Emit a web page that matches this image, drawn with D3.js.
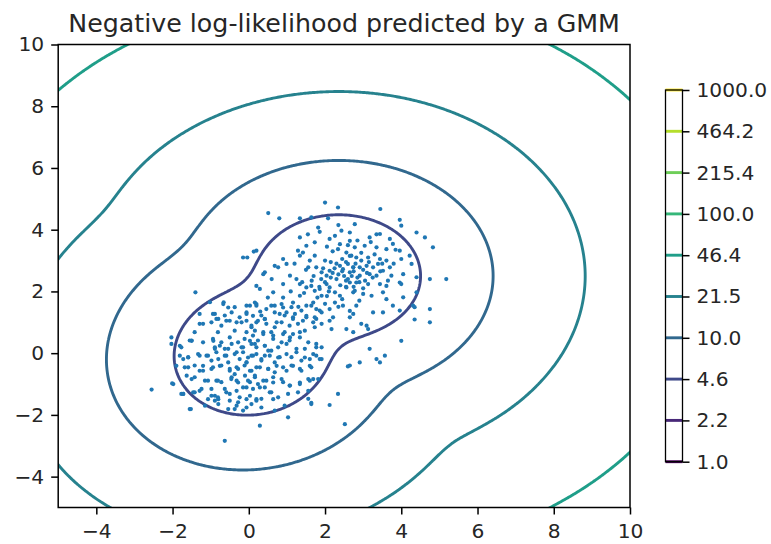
<!DOCTYPE html>
<html><head><meta charset="utf-8">
<script src="https://cdn.jsdelivr.net/npm/d3@7"></script>
<style>body{margin:0;background:#fff}svg{display:block}</style>
</head><body>
<svg id="chart" width="771" height="544"></svg>
<script>
const chartTitle = "Negative log-likelihood predicted by a GMM";
const xTicks = [-4, -2, 0, 2, 4, 6, 8, 10];
const yTicks = [-4, -2, 0, 2, 4, 6, 8, 10];
const levels = [1.0, 2.1544, 4.6416, 10.0, 21.544, 46.416, 100.0, 215.44, 464.16, 1000.0];
const gmmWeights = [0.5, 0.5];
const gmmMeans = [[0.08, 0.03], [2.36, 2.5]];
const gmmCovs = [[[0.97, 0.06], [0.06, 0.97]], [[1.1, 0.0], [0.0, 0.94]]];
const samples = [
[2.00,4.88],[2.34,4.72],[0.51,4.54],[0.80,4.37],[1.34,4.37],[1.64,4.40],[2.08,4.37],[1.82,4.07],[1.86,3.93],[2.43,3.97],
[2.65,3.91],[2.26,3.80],[1.34,3.75],[2.12,3.70],[1.51,3.48],[1.73,3.59],[1.29,3.32],[1.42,3.26],[1.34,3.16],[1.73,3.16],
[2.39,3.53],[2.34,3.37],[2.65,3.64],[2.56,3.26],[2.69,3.16],[0.20,3.32],[0.42,2.62],[0.90,3.05],[0.99,2.89],[0.77,2.78],
[0.68,2.83],[0.38,2.56],[1.08,2.51],[1.56,2.78],[1.77,2.78],[1.91,2.62],[2.04,2.51],[2.12,2.67],[2.39,2.83],[2.47,2.72],
[2.60,2.89],[2.65,2.62],[2.74,2.78],[0.20,2.18],[0.29,2.08],[0.64,1.97],[0.90,2.24],[1.25,2.40],[1.34,2.24],[1.51,2.13],
[1.64,2.18],[1.73,2.02],[1.86,2.08],[1.91,1.86],[2.04,2.24],[2.12,2.13],[2.26,1.97],[2.39,1.86],[2.56,2.13],[2.65,2.29],
[2.74,1.97],[0.16,1.64],[0.20,1.54],[0.59,1.54],[0.90,1.48],[0.99,1.32],[1.16,1.64],[1.34,1.86],[1.51,1.54],[1.69,1.64],
[1.77,1.43],[1.91,1.32],[2.12,1.43],[2.26,1.64],[2.47,1.54],[2.65,1.37],[0.11,1.21],[0.42,1.10],[0.81,1.27],[1.16,1.16],
[1.51,1.21],[1.73,1.16],[2.21,1.16],[2.65,1.16],
[2.30,2.40],[2.50,2.50],[2.20,2.60],[2.60,2.40],[2.40,2.20],[2.00,2.30],[2.70,2.50],[1.90,2.40],[2.30,2.90],[2.55,2.95],
[2.00,3.00],[1.20,2.90],[1.60,3.00],[0.60,2.40],[0.90,1.80],[1.10,2.00],[1.30,1.50],[0.50,1.80],[0.30,1.35],[1.80,1.80],
[2.90,2.30],[3.10,2.60],[2.80,2.90],[3.30,3.20],[2.10,2.00],[1.70,2.50],[2.45,2.65],[3.00,2.10],[2.20,3.30],[1.50,2.70],
[3.50,2.90],[2.60,3.50],[3.20,3.60],[2.00,1.60],[2.90,1.70],[1.40,2.30],[3.80,2.90],[2.35,1.50],
[2.15,2.45],[2.35,2.55],[2.55,2.35],[2.75,2.65],[2.85,2.45],[3.05,2.35],[2.25,2.75],[2.45,3.05],[2.65,3.15],[2.95,3.25],
[1.95,2.75],[1.85,2.15],[2.05,1.85],[2.45,1.75],[2.75,2.15],[3.25,2.45],[3.45,2.65],[3.15,2.95],[2.05,3.45],[1.65,2.35],
[1.45,1.95],[2.85,3.65],[3.35,3.85],[2.35,4.15],[1.55,3.85],[3.85,3.35],[3.65,2.35],[2.15,2.95],[2.55,2.15],[3.00,2.70],
[3.45,4.67],[2.78,4.18],[3.96,4.32],[4.00,4.13],[4.40,3.91],[4.62,3.75],[4.83,3.43],[3.17,3.75],[3.44,3.86],[3.70,3.70],
[3.78,3.54],[3.04,3.48],[2.78,3.43],[3.35,3.43],[3.61,3.37],[3.96,3.32],[4.22,3.16],[2.82,3.10],[2.95,3.00],[3.13,3.10],
[3.44,3.05],[3.61,3.00],[4.00,3.05],[4.27,2.89],[2.74,2.78],[2.91,2.78],[3.09,2.83],[3.26,2.78],[3.39,2.89],[3.52,2.67],
[3.70,2.78],[3.17,2.56],[3.35,2.51],[2.91,2.51],[3.74,2.51],[4.05,2.56],[4.40,2.46],[4.75,2.40],[5.18,2.40],[2.82,2.29],
[3.13,2.24],[3.44,2.24],[3.61,2.18],[3.96,2.29],[2.78,2.02],[3.00,1.92],[3.22,1.86],[3.52,1.97],[3.61,1.75],[3.78,1.54],
[4.05,1.81],[4.31,1.54],[2.82,1.54],[3.26,1.32],[2.74,1.27],[3.52,1.32],[3.96,1.38],[4.75,1.43],[4.40,1.97],
[4.35,1.09],[4.75,1.00],[2.95,0.95],[3.09,0.89],[3.13,0.78],[2.74,0.68],[4.00,0.40],[3.17,0.14],[2.91,-0.30],[2.65,-0.40],
[3.35,-0.19],[3.44,-0.30],[3.57,-0.08],[4.00,2.24],[4.35,1.49],
[-0.15,3.10],[-0.04,3.10],[0.13,3.29],[-1.40,1.97],[-1.02,1.65],[-0.66,1.65],[-0.54,1.48],[-0.45,1.32],[-0.94,1.27],[-0.06,1.32],
[0.03,1.54],[-1.29,1.27],[-0.24,1.16],[-0.80,1.11],
[-1.29,0.95],[-0.85,1.11],[-0.59,1.05],[-0.32,1.00],[-0.06,1.05],[0.07,0.84],[-2.03,0.51],[-2.03,0.30],[-1.50,0.40],[-1.81,0.24],
[-0.93,0.40],[-0.76,0.24],[-0.89,0.14],[-0.63,0.14],[-0.45,0.30],[-0.32,0.03],[-0.15,0.19],[0.03,0.40],[-1.72,-0.19],[-1.59,-0.13],
[-1.29,-0.08],[-1.07,-0.08],[-0.80,-0.19],[-0.59,-0.08],[-0.24,-0.19],[-0.06,-0.30],[0.07,-0.08],[-1.90,-0.41],[-1.59,-0.46],[-1.20,-0.41],
[-0.98,-0.51],[-0.76,-0.41],[-0.50,-0.57],[-0.28,-0.51],[0.03,-0.57],[-1.63,-0.73],[-1.42,-0.78],[-1.15,-0.89],[-0.85,-0.89],[-0.72,-0.94],
[-0.45,-0.78],[-0.32,-0.89],[-0.10,-0.73],[0.03,-0.94],[-2.55,-1.18],[-1.98,-1.00],[-1.72,-1.32],[-1.46,-1.27],[-1.29,-1.22],[-0.98,-1.16],
[-0.89,-1.38],[-0.59,-1.27],[-0.32,-1.22],[-0.06,-1.11],[-1.07,-1.49],[-0.80,-1.49],[-0.50,-1.54],[-0.28,-1.59],[-0.06,-1.49],[0.07,-1.65],
[-1.52,-1.81],[-0.80,-1.65],[-0.54,-1.81],[-0.32,-1.70],[-0.15,-1.86],[-0.63,-2.84],[-1.77,-1.32],[-1.50,0.41],[-1.29,-0.57],
[0.20,1.00],[0.42,1.11],[0.73,1.00],[1.16,1.11],[1.42,1.05],[1.69,1.00],[1.91,0.95],[2.12,1.05],[2.17,0.78],[2.56,0.78],
[0.11,0.57],[0.38,0.68],[0.64,0.57],[0.90,0.62],[1.08,0.51],[1.34,0.68],[0.16,0.30],[0.42,0.24],[0.51,0.08],[0.77,0.19],
[0.99,0.30],[1.25,0.14],[1.47,0.14],[1.77,0.30],[1.91,0.19],[0.11,-0.08],[0.33,-0.19],[0.55,-0.08],[0.81,-0.13],[1.12,-0.13],
[1.38,-0.24],[1.60,-0.19],[1.77,-0.08],[1.86,-0.19],[2.60,-0.43],[0.20,-0.46],[0.51,-0.51],[0.73,-0.41],[0.99,-0.57],[1.16,-0.41],
[1.34,-0.51],[1.60,-0.41],[0.16,-0.78],[0.38,-0.89],[0.64,-0.78],[0.90,-0.94],[1.34,-1.00],[1.56,-0.84],[1.69,-0.84],[0.29,-1.11],
[0.55,-1.27],[1.08,-1.05],[1.56,-1.22],[2.34,-1.32],[0.20,-1.49],[0.64,-1.49],[1.64,-1.61],[2.12,-1.68],[1.03,-2.08],[0.29,-2.35],
[2.52,-2.30],[-2.01,-0.98],
[-0.67,1.59],[-0.37,1.49],[-0.06,1.54],[0.20,1.59],[0.46,1.43],[0.68,1.54],[0.86,1.59],[1.12,1.49],[1.38,1.38],[1.64,1.54],
[1.86,1.38],[-0.89,1.27],[-0.63,1.22],[-0.06,1.27],[0.33,1.22],[0.68,1.32],[0.94,1.22],[1.21,1.27],[1.51,1.16],[1.77,1.11],
[-1.20,0.95],[-0.98,1.00],[-0.72,0.89],[-0.50,1.05],[-0.19,1.00],[0.07,0.89],[0.24,1.05],[0.46,0.95],[0.68,0.84],[0.86,1.00],
[1.07,0.89],[1.29,0.95],[1.47,0.73],[1.73,0.84],[-1.42,0.68],[-0.81,0.68],[-0.37,0.73],[-0.06,0.68],[0.16,0.73],[0.38,0.62],
[0.59,0.68],[0.94,0.68],[1.16,0.62],
[-1.55,0.41],[-1.20,0.35],[-0.94,0.46],[-0.72,0.35],[-0.50,0.51],[-0.28,0.35],[-0.11,0.46],[0.07,0.30],[0.24,0.41],[0.42,0.24],
[0.64,0.46],[0.86,0.35],[1.07,0.41],[1.34,0.51],[1.56,0.35],[1.77,0.19],[-1.77,0.19],[-0.89,0.19],[-0.54,0.14],[-0.19,0.19],[0.20,0.19],
[-1.81,-0.08],[-1.59,-0.14],[-1.33,-0.03],[-1.11,-0.08],[-0.85,0.03],[-0.63,-0.08],[-0.37,-0.03],[-0.15,0.03],[-0.02,-0.14],[0.20,-0.03],
[0.42,-0.08],[0.59,0.08],[0.77,-0.14],[0.99,-0.03],[1.25,0.03],[1.47,-0.14],[1.69,-0.03],[1.91,-0.19],[-0.98,-0.24],[-0.54,-0.30],
[-0.06,-0.30],[0.33,-0.24],[0.68,-0.30],
[-1.68,-0.46],[-1.42,-0.40],[-1.20,-0.57],[-0.94,-0.46],[-0.72,-0.40],[-0.50,-0.51],[-0.32,-0.46],[-0.11,-0.40],[0.07,-0.57],[0.29,-0.46],
[0.51,-0.51],[0.68,-0.62],[0.90,-0.46],[1.12,-0.40],[1.38,-0.57],[1.64,-0.46],[-0.37,-0.68],[0.16,-0.73],
[-1.50,-0.84],[-1.07,-0.89],[-0.81,-0.89],[-0.46,-0.84],[-0.28,-0.95],[-0.02,-0.89],[0.24,-1.00],[0.46,-0.89],[0.64,-0.95],[0.86,-0.84],
[1.07,-1.05],[1.34,-0.95],[1.60,-0.89],[1.82,-0.84],[-1.24,-1.16],[-0.63,-1.16],[-0.15,-1.11],[0.11,-1.16],[0.42,-1.11],
[-1.72,-1.32],[-1.42,-1.27],[-0.98,-1.38],[-0.81,-1.43],[-0.50,-1.32],[-0.24,-1.43],[0.03,-1.38],[0.33,-1.48],[0.59,-1.27],[0.77,-1.43],
[1.03,-1.32],[1.29,-1.27],[1.56,-1.48],[-0.89,-1.54],[0.20,-1.54],
[-1.55,-1.81],[-1.15,-1.70],[-0.37,-1.81],[-0.06,-1.76],[0.33,-1.76],[0.68,-1.86],[0.94,-1.70],[1.64,-1.65]
];

const plot = {left: 58.2, right: 630, top: 44.5, bottom: 507.5};
const svg = d3.select("#chart");
const x = d3.scaleLinear().domain([-5, 10]).range([plot.left, plot.right]);
const y = d3.scaleLinear().domain([-5, 10]).range([plot.bottom, plot.top]);
const fontFam = "DejaVu Sans, sans-serif";
const tickFont = 20.2;
const levelColor = d3.scaleSequentialLog(d3.interpolateViridis).domain([1, 1000]);

// GMM negative log-likelihood on a grid
function comp(k) {
  const c = gmmCovs[k];
  const det = c[0][0] * c[1][1] - c[0][1] * c[1][0];
  const inv = [[c[1][1] / det, -c[0][1] / det], [-c[1][0] / det, c[0][0] / det]];
  return {inv, logNorm: Math.log(gmmWeights[k]) - Math.log(2 * Math.PI) - 0.5 * Math.log(det), mu: gmmMeans[k]};
}
const comps = gmmWeights.map((_, k) => comp(k));
function nll(px, py) {
  const ls = comps.map(c => {
    const dx = px - c.mu[0], dy = py - c.mu[1];
    const m = dx * (c.inv[0][0] * dx + c.inv[0][1] * dy) + dy * (c.inv[1][0] * dx + c.inv[1][1] * dy);
    return c.logNorm - 0.5 * m;
  });
  const mx = d3.max(ls);
  return -(mx + Math.log(d3.sum(ls, l => Math.exp(l - mx))));
}
const g0 = -9, g1 = 14, step = 0.04;
const n = Math.round((g1 - g0) / step) + 1;
const values = new Float64Array(n * n);
for (let j = 0; j < n; j++) for (let i = 0; i < n; i++) values[i + j * n] = nll(g0 + i * step, g0 + j * step);
const contours = d3.contours().size([n, n]).thresholds(levels)(values);
const proj = d3.geoTransform({point: function(px, py) {
  this.stream.point(x(g0 + (px - 0.5) * step), y(g0 + (py - 0.5) * step));
}});
const path = d3.geoPath(proj);

svg.append("defs").append("clipPath").attr("id", "clip").append("rect")
  .attr("x", plot.left).attr("y", plot.top).attr("width", plot.right - plot.left).attr("height", plot.bottom - plot.top);

svg.append("g").attr("clip-path", "url(#clip)").selectAll("path").data(contours).join("path")
  .attr("d", path).attr("fill", "none").attr("stroke", d => levelColor(d.value)).attr("stroke-width", 2.9)
  .attr("stroke-linejoin", "round");

svg.append("g").attr("clip-path", "url(#clip)").selectAll("circle").data(samples).join("circle")
  .attr("cx", d => x(d[0])).attr("cy", d => y(d[1])).attr("r", 2.1).attr("fill", "#1f77b4");

// axes
const fmt = v => (v < 0 ? "\u2212" + Math.abs(v) : String(v));
const xAxis = d3.axisBottom(x).tickValues(xTicks).tickFormat(fmt).tickSize(7).tickPadding(9);
const yAxis = d3.axisLeft(y).tickValues(yTicks).tickFormat(fmt).tickSize(7).tickPadding(7);
const gx = svg.append("g").attr("transform", `translate(0,${plot.bottom})`).call(xAxis);
const gy = svg.append("g").attr("transform", `translate(${plot.left},0)`).call(yAxis);
[gx, gy].forEach(g => {
  g.select(".domain").remove();
  g.selectAll("line").attr("stroke", "#000").attr("stroke-width", 1.5);
  g.selectAll("text").attr("font-family", fontFam).attr("font-size", tickFont).attr("fill", "#262626");
});
svg.append("rect").attr("x", plot.left).attr("y", plot.top).attr("width", plot.right - plot.left)
  .attr("height", plot.bottom - plot.top).attr("fill", "none").attr("stroke", "#000").attr("stroke-width", 1.5);

svg.append("text").attr("x", (plot.left + plot.right) / 2).attr("y", 32).attr("text-anchor", "middle")
  .attr("font-family", fontFam).attr("font-size", 25.3).attr("fill", "#262626").text(chartTitle);

// colorbar
const cb = {left: 665.5, right: 682.5, top: 90, bottom: 461.7};
const cy = d3.scaleLog().domain([1, 1000]).range([cb.bottom, cb.top]);
const cbg = svg.append("g");
cbg.append("rect").attr("x", cb.left).attr("y", cb.top).attr("width", cb.right - cb.left)
  .attr("height", cb.bottom - cb.top).attr("fill", "#fff");
cbg.selectAll("line.lev").data(levels).join("line").attr("class", "lev")
  .attr("x1", cb.left).attr("x2", cb.right).attr("y1", d => cy(d)).attr("y2", d => cy(d))
  .attr("stroke", d => levelColor(d)).attr("stroke-width", 2.9);
cbg.append("rect").attr("x", cb.left).attr("y", cb.top).attr("width", cb.right - cb.left)
  .attr("height", cb.bottom - cb.top).attr("fill", "none").attr("stroke", "#000").attr("stroke-width", 1.3);
const cAxis = d3.axisRight(cy).tickValues(levels).tickFormat(d3.format(".1f")).tickSize(7).tickPadding(7);
const gc = svg.append("g").attr("transform", `translate(${cb.right},0)`).call(cAxis);
gc.select(".domain").remove();
gc.selectAll("line").attr("stroke", "#000").attr("stroke-width", 1.5);
gc.selectAll("text").attr("font-family", fontFam).attr("font-size", tickFont).attr("fill", "#262626");
</script>
</body></html>
